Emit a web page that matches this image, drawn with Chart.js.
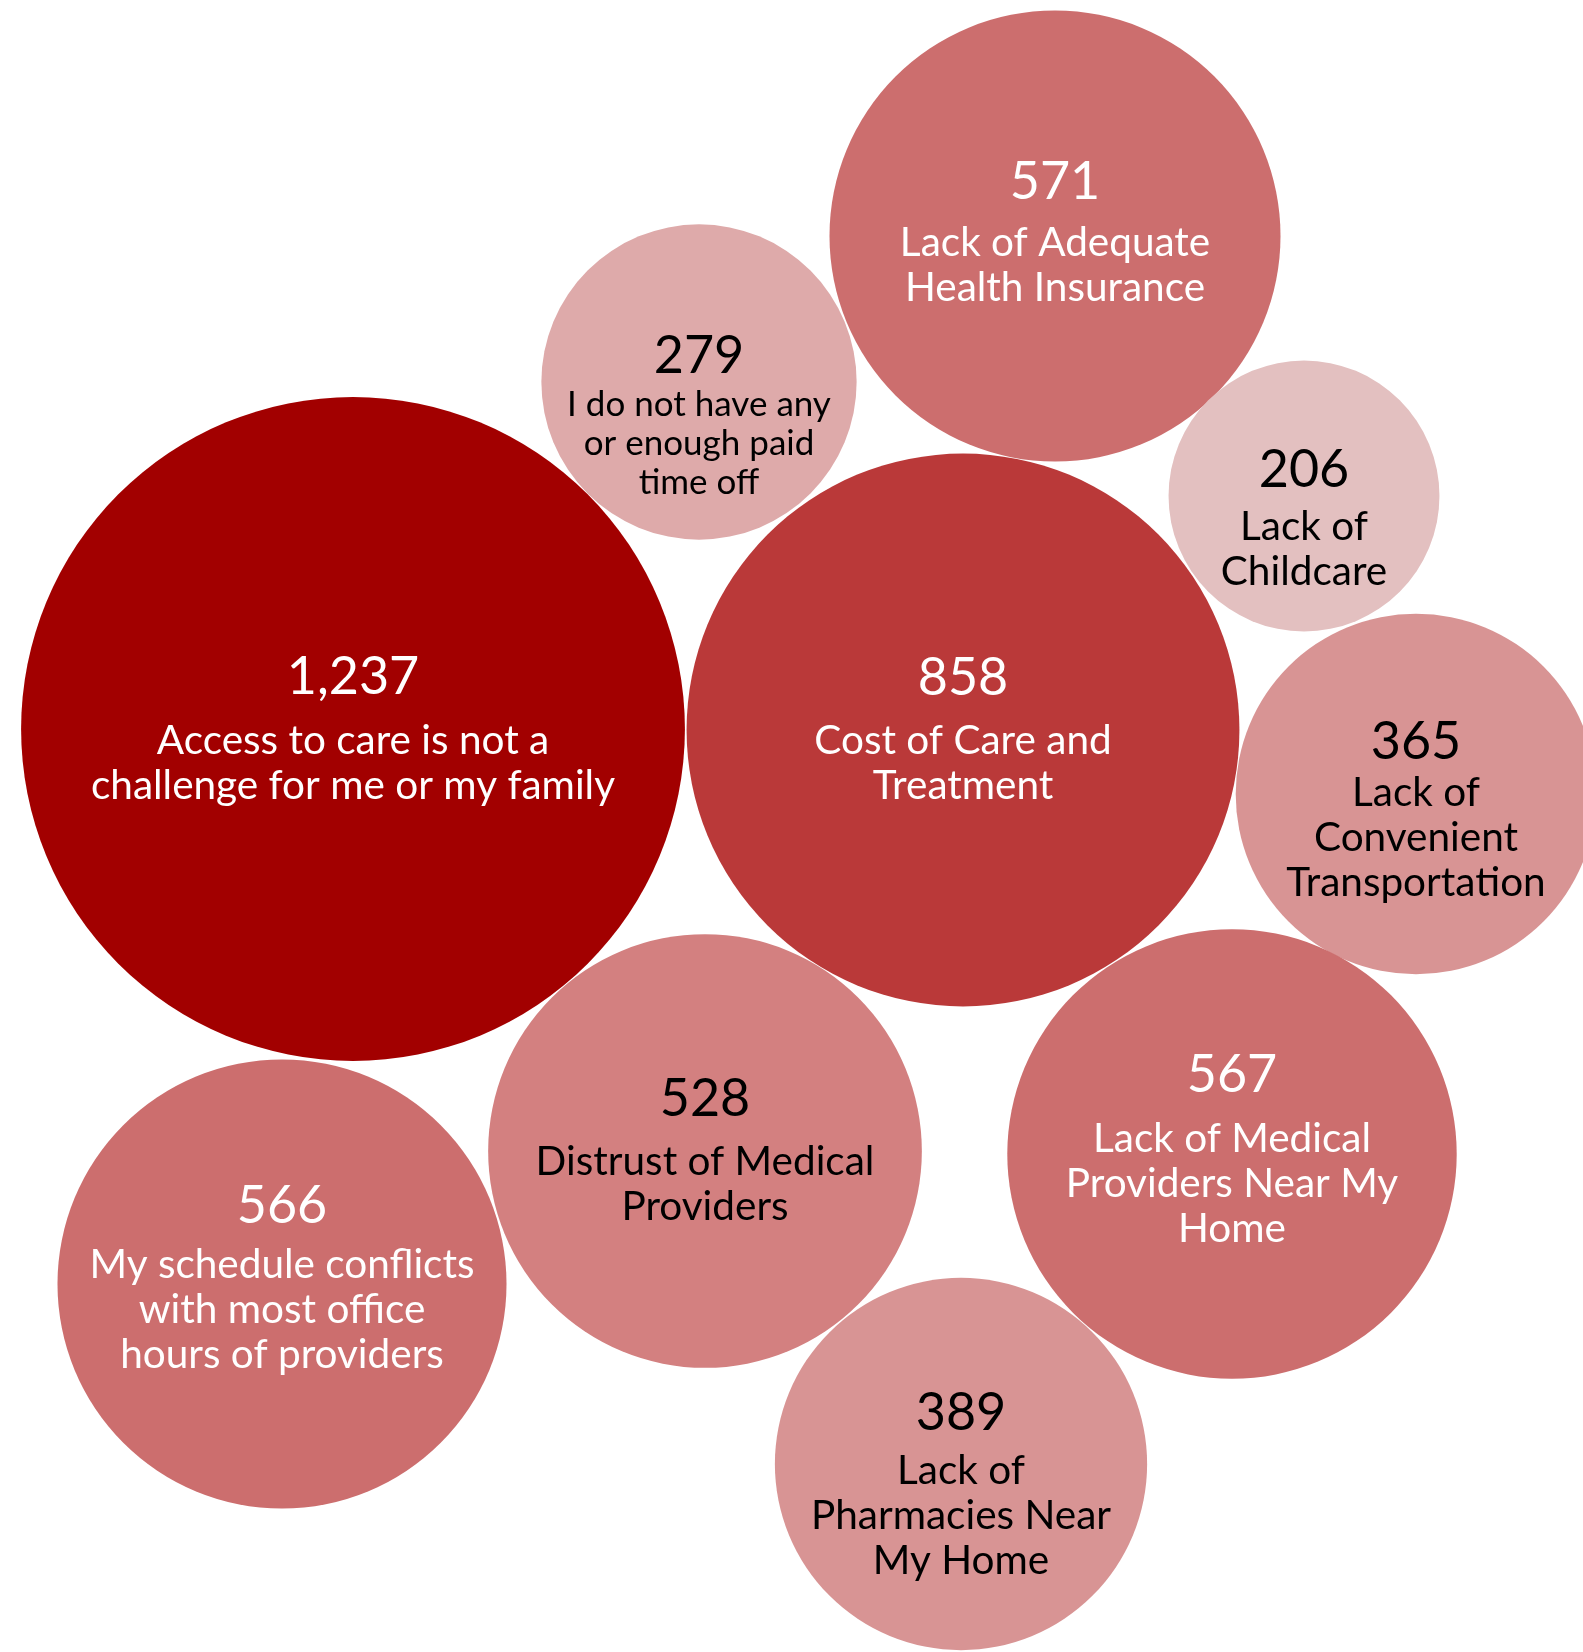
<!DOCTYPE html>
<html>
<head>
<meta charset="utf-8">
<script src="https://cdn.jsdelivr.net/npm/chart.js@4"></script>
<style>
html,body{margin:0;padding:0;background:#fff;}
#wrap{position:relative;width:1583px;height:1652px;}
</style>
</head>
<body>
<div id="wrap"><canvas id="c"></canvas></div>
<script>
// ---- data ----
const categories = [
  "1,237", "858", "571", "279", "206", "365", "567", "528", "566", "389"
];
const values = [1237, 858, 571, 279, 206, 365, 567, 528, 566, 389];
const labels = [
  ["Access to care is not a", "challenge for me or my family"],
  ["Cost of Care and", "Treatment"],
  ["Lack of Adequate", "Health Insurance"],
  ["I do not have any", "or enough paid", "time off"],
  ["Lack of", "Childcare"],
  ["Lack of", "Convenient", "Transportation"],
  ["Lack of Medical", "Providers Near My", "Home"],
  ["Distrust of Medical", "Providers"],
  ["My schedule conflicts", "with most office", "hours of providers"],
  ["Lack of", "Pharmacies Near", "My Home"]
];
// bubble placement (axis units)
const xPos = [353, 963, 1055, 699, 1304, 1416, 1232, 705, 282, 961];
const yPos = [729, 730, 236, 382, 496, 794, 1154, 1151, 1284, 1464];

// ---- styles / layout ----
const fillColors = ["#A20000", "#BA3939", "#CC6E6E", "#DEAAAA", "#E3C0C0",
                    "#D89494", "#CC6E6E", "#D38080", "#CC6E6E", "#D89494"];
const textColors = ["#FFFFFF", "#FFFFFF", "#FFFFFF", "#000000", "#000000",
                    "#000000", "#FFFFFF", "#000000", "#FFFFFF", "#000000"];
const numberDy = [-52, -52, -54, -26, -26, -52, -79, -52, -78, -51];
const firstLineDy = [12, 11, 7, 23, 31, -1, -15, 11, -19, 7];
const labelFont = [40.5, 40.5, 40.5, 35, 40.5, 40.5, 40.5, 40.5, 40.5, 40.5];
const lineGap = [45, 45, 45, 39, 45, 45, 45, 45, 45, 45];
const RADIUS_K = 9.437;

const points = values.map((v, i) => ({ x: xPos[i], y: yPos[i], r: RADIUS_K * Math.sqrt(v) }));

const textPlugin = {
  id: 'bubbleText',
  afterDatasetsDraw(chart) {
    const ctx = chart.ctx;
    const meta = chart.getDatasetMeta(0);
    ctx.save();
    ctx.textAlign = 'center';
    ctx.textBaseline = 'middle';
    meta.data.forEach((el, i) => {
      const cx = el.x, cy = el.y;
      ctx.fillStyle = textColors[i];
      ctx.font = '52px Lato';
      ctx.fillText(categories[i], cx, cy + numberDy[i]);
      ctx.font = labelFont[i] + 'px Lato';
      labels[i].forEach((line, j) => {
        ctx.fillText(line, cx, cy + firstLineDy[i] + j * lineGap[i]);
      });
    });
    ctx.restore();
  }
};

new Chart(document.getElementById('c'), {
  type: 'bubble',
  data: {
    datasets: [{
      data: points,
      backgroundColor: fillColors,
      borderWidth: 0,
      hoverBorderWidth: 0,
      clip: false
    }]
  },
  options: {
    responsive: true,
    maintainAspectRatio: false,
    animation: false,
    layout: { padding: 0, autoPadding: false },
    plugins: { legend: { display: false }, tooltip: { enabled: false } },
    events: [],
    scales: {
      x: { type: 'linear', min: 0, max: 1583, display: false },
      y: { type: 'linear', min: 0, max: 1652, reverse: true, display: false }
    }
  },
  plugins: [textPlugin]
});
</script>
</body>
</html>
